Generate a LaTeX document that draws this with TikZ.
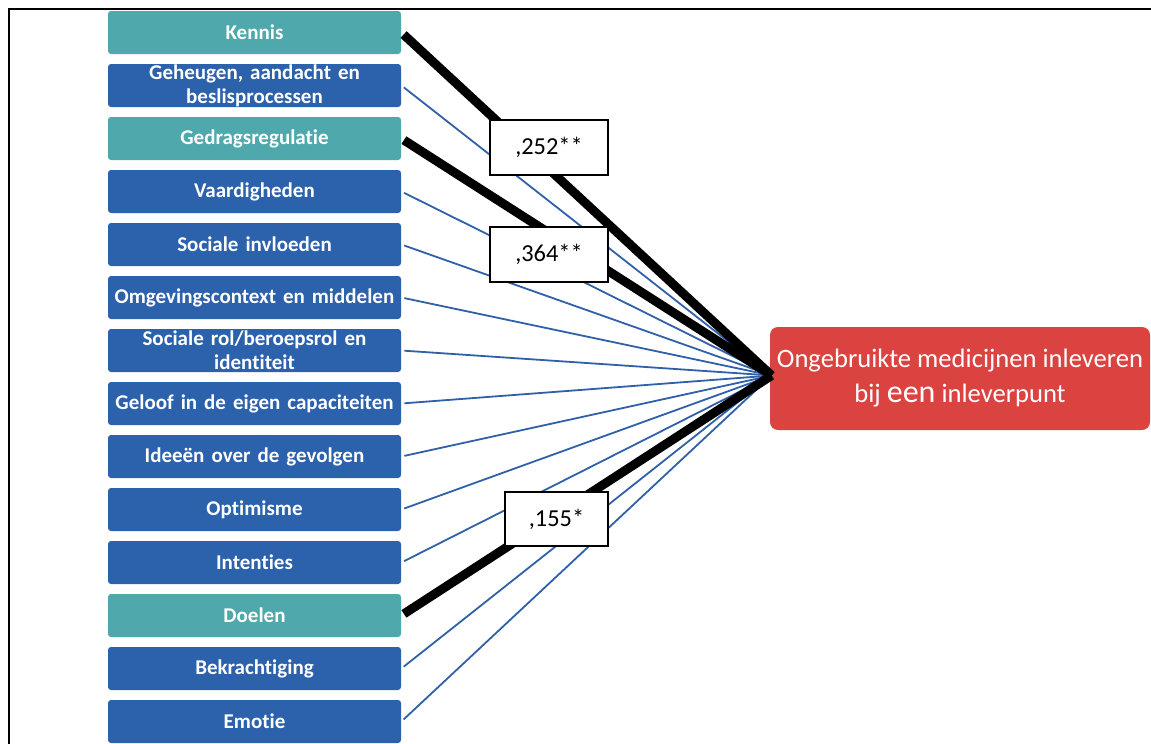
\documentclass[tikz,border=0pt]{standalone}
\usepackage{fontspec}
\setmainfont[Ligatures=NoCommon]{Carlito}
\definecolor{tealbox}{HTML}{4EA8AC}
\definecolor{bluebox}{HTML}{2C61AC}
\definecolor{redbox}{HTML}{DB4340}
\definecolor{thinline}{HTML}{3060A8}
\begin{document}
\begin{tikzpicture}[x=0.5pt,y=-0.5pt,
  factor/.style={rectangle, rounded corners=1.5pt, minimum width=146.5pt, minimum height=21.5pt,
    inner sep=0pt, text=white, font=\fontsize{10.5}{11.8}\selectfont\bfseries, align=center, text width=144pt},
  tealf/.style={factor, fill=tealbox},
  bluef/.style={factor, fill=bluebox},
  thin/.style={draw=thinline, line width=0.9pt, shorten <=1.5pt},
  thick/.style={draw=black, line width=4.5pt, shorten <=1.5pt},
  coef/.style={draw=black, line width=1pt, fill=white, inner sep=0pt, font=\fontsize{12.2}{13}\selectfont}
]
\useasboundingbox (0,0) rectangle (1151,744);
\draw[line width=1pt] (9,744) -- (9,9) -- (1151,9);

\node[tealf] (f1) at (254.5,32.5) {Kennis};
\node[bluef] (f2) at (254.5,85.5) {Geheugen, aandacht en\\beslisprocessen};
\node[tealf] (f3) at (254.5,138.5) {Gedragsregulatie};
\node[bluef] (f4) at (254.5,191.5) {Vaardigheden};
\node[bluef] (f5) at (254.5,244.5) {Sociale invloeden};
\node[bluef] (f6) at (254.5,297.5) {Omgevingscontext en middelen};
\node[bluef] (f7) at (254.5,350.5) {Sociale rol/beroepsrol en\\identiteit};
\node[bluef] (f8) at (254.5,403.5) {Geloof in de eigen capaciteiten};
\node[bluef] (f9) at (254.5,456.5) {Ideeën over de gevolgen};
\node[bluef] (f10) at (254.5,509.5) {Optimisme};
\node[bluef] (f11) at (254.5,562.5) {Intenties};
\node[tealf] (f12) at (254.5,615.5) {Doelen};
\node[bluef] (f13) at (254.5,668.5) {Bekrachtiging};
\node[bluef] (f14) at (254.5,721.5) {Emotie};

\node[rectangle, rounded corners=4pt, fill=redbox, minimum width=190pt, minimum height=51.5pt,
  inner sep=0pt, text=white, align=center, font=\fontsize{13.3}{17.5}\selectfont] (target) at (960,378.5)
  {Ongebruikte medicijnen inleveren\\bij {\fontsize{16}{17.5}\selectfont een} inleverpunt};
\coordinate (c) at ([xshift=1pt,yshift=1.5pt]target.west);

\foreach \i in {2,4,5,6,7,8,9,10,11,13,14} {
  \draw[thin] (f\i.east) -- (c);
}
\draw[thick] (f1.east) -- (c);
\draw[thick] (f3.east) -- (c);
\draw[thick] (f12.east) -- (c);

\node[coef, minimum width=59pt, minimum height=27.5pt] (l1) at (549,147) {,252**};
\node[coef, minimum width=59pt, minimum height=27.5pt] (l2) at (549,254) {,364**};
\node[coef, minimum width=51.5pt, minimum height=27pt] (l3) at (556.5,519) {,155*};
\end{tikzpicture}
\end{document}
